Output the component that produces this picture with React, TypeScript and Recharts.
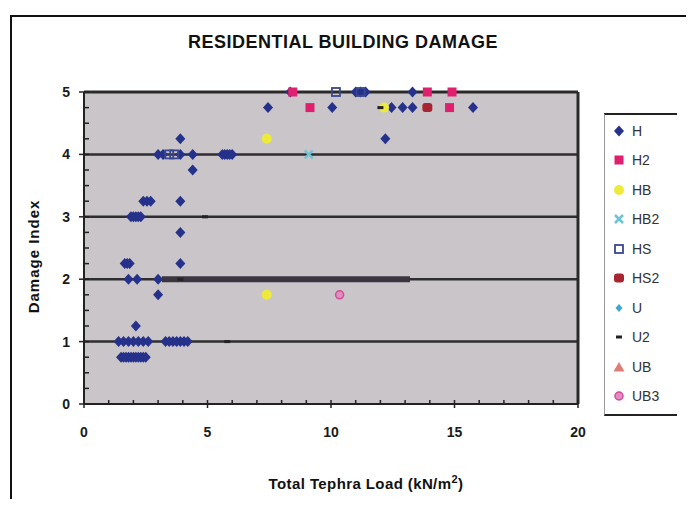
import React from 'react';
import { ScatterChart, Scatter, XAxis, YAxis, ReferenceLine, CartesianGrid, Legend } from 'recharts';

// ---------- data ----------
const X_TICKS = [0, 1, 2, 3, 4, 5, 6, 7, 8, 9, 10, 11, 12, 13, 14, 15, 16, 17, 18, 19, 20];
const X_MAJOR = [0, 5, 10, 15, 20];
const Y_TICKS = [0, 0.25, 0.5, 0.75, 1, 1.25, 1.5, 1.75, 2, 2.25, 2.5, 2.75, 3, 3.25, 3.5, 3.75, 4, 4.25, 4.5, 4.75, 5];
const Y_MAJOR = [0, 1, 2, 3, 4, 5];
const GRID_Y = [1, 2, 3, 4];

const H_PTS: [number, number][] = [
  [3.9, 4.25], [3.0, 4], [3.2, 4], [3.9, 4], [4.4, 4], [5.6, 4], [5.7, 4], [5.8, 4], [5.9, 4], [6.0, 4],
  [4.4, 3.75], [2.4, 3.25], [2.55, 3.25], [2.7, 3.25], [3.9, 3.25], [1.9, 3], [2.0, 3], [2.1, 3], [2.2, 3], [2.3, 3],
  [3.9, 2.75], [1.65, 2.25], [1.75, 2.25], [1.85, 2.25], [3.9, 2.25], [1.8, 2], [2.15, 2], [3.0, 2],
  [3.0, 1.75], [2.1, 1.25], [1.4, 1], [1.6, 1], [1.8, 1], [2.0, 1], [2.2, 1], [2.4, 1], [2.6, 1],
  [3.3, 1], [3.45, 1], [3.6, 1], [3.75, 1], [3.9, 1], [4.05, 1], [4.2, 1],
  [1.5, 0.75], [1.6, 0.75], [1.7, 0.75], [1.8, 0.75], [1.9, 0.75], [2.0, 0.75],
  [2.1, 0.75], [2.2, 0.75], [2.3, 0.75], [2.4, 0.75], [2.5, 0.75],
  [8.35, 5], [11.0, 5], [11.2, 5], [11.4, 5], [13.3, 5],
  [7.45, 4.75], [10.05, 4.75], [12.45, 4.75], [12.9, 4.75], [13.3, 4.75], [15.75, 4.75],
  [12.2, 4.25],
];
const H2_PTS: [number, number][] = [[8.45, 5], [13.9, 5], [14.9, 5], [9.15, 4.75], [14.8, 4.75]];
const HB_PTS: [number, number][] = [[12.15, 4.75], [7.4, 4.25], [7.4, 1.75]];
const HB2_PTS: [number, number][] = [[9.1, 4]];
const HS_PTS: [number, number][] = [[3.45, 4], [3.65, 4], [10.2, 5], [11.2, 5]];
const HS2_PTS: [number, number][] = [[13.9, 4.75]];
const U_PTS: [number, number][] = [];
const U2_PTS: [number, number][] = [[4.9, 3], [5.8, 1], [3.9, 2], [12.0, 4.75]];
const UB_PTS: [number, number][] = [];
const UB3_PTS: [number, number][] = [[10.35, 1.75]];

const toObj = (a: [number, number][]) => a.map(([x, y]) => ({ x, y }));

// ---------- marker shapes ----------
const NAVY = '#25318a';
const shapes: Record<string, (cx: number, cy: number) => React.ReactElement> = {
  H: (cx, cy) => <polygon points={`${cx},${cy - 5.5} ${cx + 5},${cy} ${cx},${cy + 5.5} ${cx - 5},${cy}`} fill={NAVY} />,
  H2: (cx, cy) => <rect x={cx - 4.5} y={cy - 4.5} width={9} height={9} fill="#e0206e" />,
  HB: (cx, cy) => <circle cx={cx} cy={cy} r={5} fill="#eeea3a" />,
  HB2: (cx, cy) => (
    <g stroke="#6cc4d4" strokeWidth={2.5}>
      <line x1={cx - 4} y1={cy - 4} x2={cx + 4} y2={cy + 4} />
      <line x1={cx - 4} y1={cy + 4} x2={cx + 4} y2={cy - 4} />
    </g>
  ),
  HS: (cx, cy) => <rect x={cx - 4} y={cy - 4} width={8} height={8} fill="none" stroke="#3a4690" strokeWidth={1.8} />,
  HS2: (cx, cy) => <rect x={cx - 5} y={cy - 4.5} width={10} height={9} rx={3} fill="#a82430" />,
  U: (cx, cy) => <polygon points={`${cx},${cy - 4} ${cx + 3.5},${cy} ${cx},${cy + 4} ${cx - 3.5},${cy}`} fill="#40a6cc" />,
  U2: (cx, cy) => <rect x={cx - 3} y={cy - 1.5} width={6} height={3} fill="#222" />,
  UB: (cx, cy) => <polygon points={`${cx},${cy - 5} ${cx + 5.5},${cy + 4.5} ${cx - 5.5},${cy + 4.5}`} fill="#e07c78" />,
  UB3: (cx, cy) => <circle cx={cx} cy={cy} r={4} fill="#e48cc0" stroke="#d04c9c" strokeWidth={1.5} />,
};

const SERIES: { name: string; pts: [number, number][] }[] = [
  { name: 'H', pts: H_PTS },
  { name: 'H2', pts: H2_PTS },
  { name: 'HB', pts: HB_PTS },
  { name: 'HB2', pts: HB2_PTS },
  { name: 'HS', pts: HS_PTS },
  { name: 'HS2', pts: HS2_PTS },
  { name: 'U', pts: U_PTS },
  { name: 'U2', pts: U2_PTS },
  { name: 'UB', pts: UB_PTS },
  { name: 'UB3', pts: UB3_PTS },
];

const makeShape = (name: string) => (props: any) => {
  const { cx, cy } = props;
  if (cx == null || cy == null) return <g />;
  return shapes[name](cx, cy);
};

const TICK_FONT = { fontFamily: '"Liberation Sans", Arial, sans-serif', fontWeight: 700, fontSize: 14, fill: '#1a1a1a' };

const XTick = (props: any) => {
  const { x, y, payload } = props;
  const v = payload.value;
  const major = X_MAJOR.includes(v);
  return (
    <g>
      <line x1={x} x2={x} y1={y - 4} y2={major ? y + 4 : y} stroke="#222" strokeWidth={1.5} />
      {major && (
        <text x={x} y={y + 33} textAnchor="middle" style={TICK_FONT as any}>
          {String(v)}
        </text>
      )}
    </g>
  );
};

const YTick = (props: any) => {
  const { x, y, payload } = props;
  const v = payload.value;
  const major = Y_MAJOR.includes(v);
  return (
    <g>
      <line x1={major ? x - 5 : x} x2={x + 5} y1={y} y2={y} stroke="#222" strokeWidth={1.5} />
      {major && (
        <text x={x - 14} y={y + 5} textAnchor="end" style={TICK_FONT as any}>
          {String(v)}
        </text>
      )}
    </g>
  );
};

const renderLegend = () => (
  <div
    style={{
      width: 72,
      borderTop: '2px solid #222',
      borderBottom: '2px solid #222',
      borderLeft: '1px solid #999',
      paddingTop: 1,
      paddingBottom: 3,
      fontFamily: '"Liberation Sans", Arial, sans-serif',
      fontSize: 14,
      color: '#333',
    }}
  >
    {SERIES.map((s) => (
      <div key={s.name} style={{ height: 29.5, display: 'flex', alignItems: 'center' }}>
        <svg width={14} height={14} style={{ marginLeft: 7, marginRight: 6 }}>
          {shapes[s.name](7, 7)}
        </svg>
        <span>{s.name}</span>
      </div>
    ))}
  </div>
);

export default function App() {
  return (
    <div style={{ position: 'relative', width: 694, height: 507, margin: -8, background: '#fff', overflow: 'hidden' }}>
      <div
        style={{
          position: 'absolute', left: 10, top: 15, width: 678, height: 520,
          borderLeft: '2px solid #111', borderTop: '2px solid #111', borderRight: '2px solid #111',
        }}
      />
      <div
        style={{
          position: 'absolute', left: 0, width: 686, top: 32, textAlign: 'center',
          fontFamily: '"Liberation Sans", Arial, sans-serif', fontWeight: 700, fontSize: 18, letterSpacing: 0.5, color: '#111',
        }}
      >
        RESIDENTIAL BUILDING DAMAGE
      </div>
      <div
        style={{
          position: 'absolute', left: 266, top: 473, width: 200, textAlign: 'center', whiteSpace: 'nowrap',
          fontFamily: '"Liberation Sans", Arial, sans-serif', fontWeight: 700, fontSize: 15, letterSpacing: 0.4, color: '#111',
        }}
      >
        Total Tephra Load (kN/m<sup style={{ fontSize: 11 }}>2</sup>)
      </div>
      <div
        style={{
          position: 'absolute', left: 33, top: 258, width: 0, height: 0,
        }}
      >
        <div
          style={{
            position: 'absolute', left: -70, top: -10, width: 140, textAlign: 'center', transform: 'rotate(-90deg)',
            fontFamily: '"Liberation Sans", Arial, sans-serif', fontWeight: 700, fontSize: 15, letterSpacing: 1, color: '#111',
          }}
        >
          Damage Index
        </div>
      </div>
      <div style={{ position: 'absolute', left: 0, top: 0 }}>
        <ScatterChart width={694} height={507} margin={{ top: 92, right: 116, bottom: 53, left: 24 }}>
          <CartesianGrid horizontal={false} vertical={false} fill="#c9c5c9" stroke="none" />
          <XAxis
            type="number" dataKey="x" domain={[0, 20]} ticks={X_TICKS} interval={0}
            height={50} tickSize={0} tickMargin={0} tickLine={false} tick={<XTick />}
            axisLine={{ stroke: '#222', strokeWidth: 2 }}
          />
          <YAxis
            type="number" dataKey="y" domain={[0, 5]} ticks={Y_TICKS} interval={0}
            width={60} tickSize={0} tickMargin={0} tickLine={false} tick={<YTick />}
            axisLine={{ stroke: '#222', strokeWidth: 2 }}
          />
          {GRID_Y.map((g) => (
            <ReferenceLine key={g} y={g} stroke="#2e2e30" strokeWidth={2.5} />
          ))}
          <ReferenceLine segment={[{ x: 3.15, y: 2 }, { x: 13.2, y: 2 }]} stroke="#3a3540" strokeWidth={6} />
          <ReferenceLine y={5} stroke="#2a2a2a" strokeWidth={3} />
          <ReferenceLine x={20} stroke="#2a2a2a" strokeWidth={3} />
          <Legend
            layout="vertical" align="center" verticalAlign="middle" content={renderLegend}
            wrapperStyle={{ left: 604, top: 113, width: 74 }}
          />
          {SERIES.map((s) => (
            <Scatter
              key={s.name} name={s.name} data={toObj(s.pts)} shape={makeShape(s.name)}
              isAnimationActive={false}
            />
          ))}
        </ScatterChart>
      </div>
    </div>
  );
}
